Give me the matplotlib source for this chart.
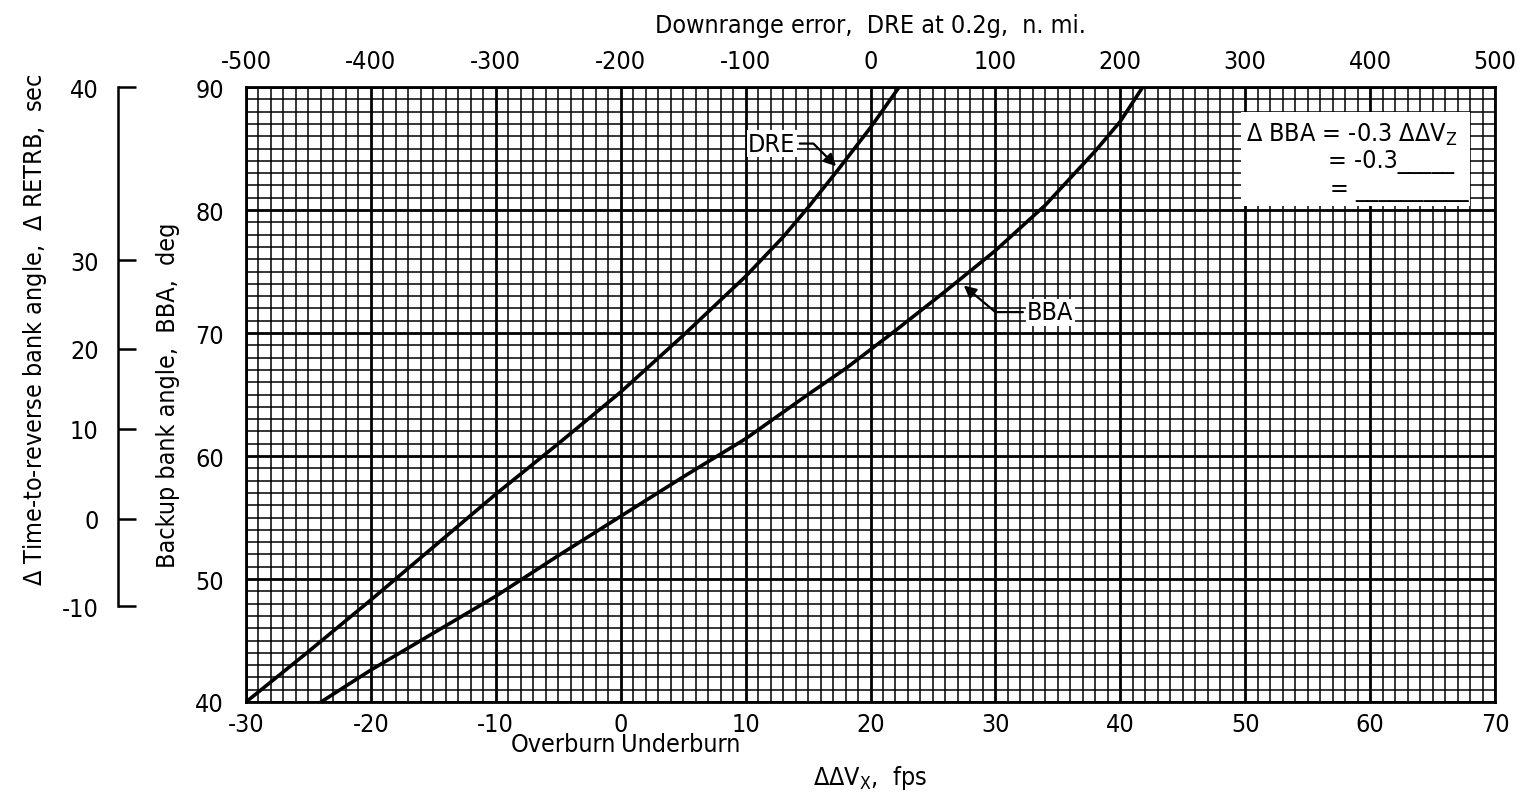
import matplotlib
matplotlib.use('Agg')
import matplotlib.pyplot as plt
from matplotlib.ticker import MultipleLocator, FixedLocator
from matplotlib.patches import Rectangle

plt.rcParams['font.family'] = ['Liberation Sans Narrow', 'DejaVu Sans']
plt.rcParams['font.stretch'] = 'condensed'
plt.rcParams['axes.unicode_minus'] = False
plt.rcParams['mathtext.fontset'] = 'custom'
plt.rcParams['mathtext.rm'] = 'DejaVu Sans:stretch=condensed'
plt.rcParams['mathtext.it'] = 'DejaVu Sans:stretch=condensed'

FS = 18

# BBA curve: velocity error (fps) vs backup bank angle (deg)
dvx_bba = [-24, -20, -15, -10, -5, 0, 5, 10, 15, 18, 22, 26, 30, 34, 38, 40, 41.8]
bba = [40, 42.6, 45.6, 48.6, 51.9, 55.1, 58.3, 61.4, 65.0, 67.1, 70.2, 73.4, 76.7, 80.4, 84.8, 87.2, 90.0]

# DRE curve: downrange error (n. mi.) vs backup bank angle (deg)
dre = [-500, -450, -400, -350, -300, -250, -200, -150, -100, -70, -50, -25, 0, 23]
dre_bba = [40, 44.1, 48.3, 52.6, 56.9, 61.0, 65.2, 69.8, 74.6, 77.8, 80.2, 83.4, 86.7, 90.0]

# Delta RETRB scale (sec) and where each tick sits on the BBA scale
retrb_ticks = [-10, 0, 10, 20, 30, 40]
retrb_at_bba = [47.8, 54.9, 62.2, 68.7, 75.9, 90.0]

W, H = 1517, 804
fig = plt.figure(figsize=(W / 100, H / 100), dpi=100)
ax = fig.add_axes([246 / W, 1 - 703 / H, (1495 - 246) / W, (703 - 88) / H])

ax.set_xlim(-30, 70)
ax.set_ylim(40, 90)
ax.xaxis.set_major_locator(MultipleLocator(10))
ax.xaxis.set_minor_locator(MultipleLocator(1))
ax.yaxis.set_major_locator(MultipleLocator(10))
ax.yaxis.set_minor_locator(MultipleLocator(1))
ax.grid(which='major', color='black', lw=2.0)
ax.grid(which='minor', color='black', lw=1.1)
ax.tick_params(which='both', length=0, labelsize=FS)
ax.tick_params(axis='x', pad=7)
ax.tick_params(axis='y', pad=16)
for s in ax.spines.values():
    s.set_linewidth(2)

ax.plot(dvx_bba, bba, color='black', lw=2.6, zorder=4)

# top axis for downrange error
ax_top = ax.twiny()
ax_top.set_xlim(-500, 500)
ax_top.xaxis.set_major_locator(MultipleLocator(100))
ax_top.tick_params(length=0, labelsize=FS, pad=10)
ax_top.plot(dre, dre_bba, color='black', lw=2.6, zorder=4)
ax_top.set_xlabel('Downrange error,  DRE at 0.2g,  n. mi.', fontsize=FS, labelpad=12)

ax.set_xlabel(r'$\Delta\Delta$V$_{\mathrm{X}}$,  fps', fontsize=FS, labelpad=20)
ax.set_ylabel('Backup bank angle,  BBA,  deg', fontsize=FS)
ax.yaxis.set_label_coords(-(246 - 180) / 1249, 0.5)

ax.text(-0.4, -0.068, 'Overburn', transform=ax.get_xaxis_transform(),
        ha='right', va='center', fontsize=FS)
ax.text(0.0, -0.068, 'Underburn', transform=ax.get_xaxis_transform(),
        ha='left', va='center', fontsize=FS)

# curve labels
ax.annotate('DRE', xy=(17.4, 83.4), xytext=(12.1, 85.4), fontsize=FS,
            ha='center', va='center', zorder=6,
            bbox=dict(fc='white', ec='none', pad=1),
            arrowprops=dict(arrowstyle='-|>', color='black', lw=1.6,
                            mutation_scale=18,
                            connectionstyle='angle,angleA=0,angleB=-45,rad=0'))
ax.annotate('BBA', xy=(27.3, 74.0), xytext=(34.4, 71.7), fontsize=FS,
            ha='center', va='center', zorder=6,
            bbox=dict(fc='white', ec='none', pad=1),
            arrowprops=dict(arrowstyle='-|>', color='black', lw=1.6,
                            mutation_scale=18,
                            connectionstyle='angle,angleA=0,angleB=140,rad=0'))

# equation box
ax.add_patch(Rectangle((0.797, 0.806), 0.183, 0.153, transform=ax.transAxes,
                       fc='white', ec='none', zorder=5))
ax.text(0.801, 0.924, r'$\Delta$ BBA = -0.3 $\Delta\Delta$V$_{\mathrm{Z}}$',
        transform=ax.transAxes, fontsize=FS, va='center', zorder=6)
ax.text(0.866, 0.880, '= -0.3_____', transform=ax.transAxes,
        fontsize=FS, va='center', zorder=6)
ax.text(0.868, 0.834, '= __________', transform=ax.transAxes,
        fontsize=FS, va='center', zorder=6)

# delta RETRB scale on the far left
ax_r = fig.add_axes([118 / W, 1 - 703 / H, 0.001, (703 - 88) / H])
ax_r.set_ylim(40, 90)
ax_r.set_xticks([])
for k in ['top', 'right', 'bottom']:
    ax_r.spines[k].set_visible(False)
ax_r.spines['left'].set_linewidth(1.8)
ax_r.spines['left'].set_bounds(retrb_at_bba[0], retrb_at_bba[-1])
ax_r.yaxis.set_major_locator(FixedLocator(retrb_at_bba))
ax_r.set_yticklabels([str(v) for v in retrb_ticks])
ax_r.tick_params(axis='y', direction='in', length=13, width=1.8,
                 labelsize=FS, pad=14)
ax_r.patch.set_visible(False)

fig.text(35 / W, 1 - 330 / H, r'$\Delta$ Time-to-reverse bank angle,  $\Delta$ RETRB,  sec',
         rotation=90, ha='center', va='center', fontsize=FS)

fig.savefig('out.png', dpi=100)
